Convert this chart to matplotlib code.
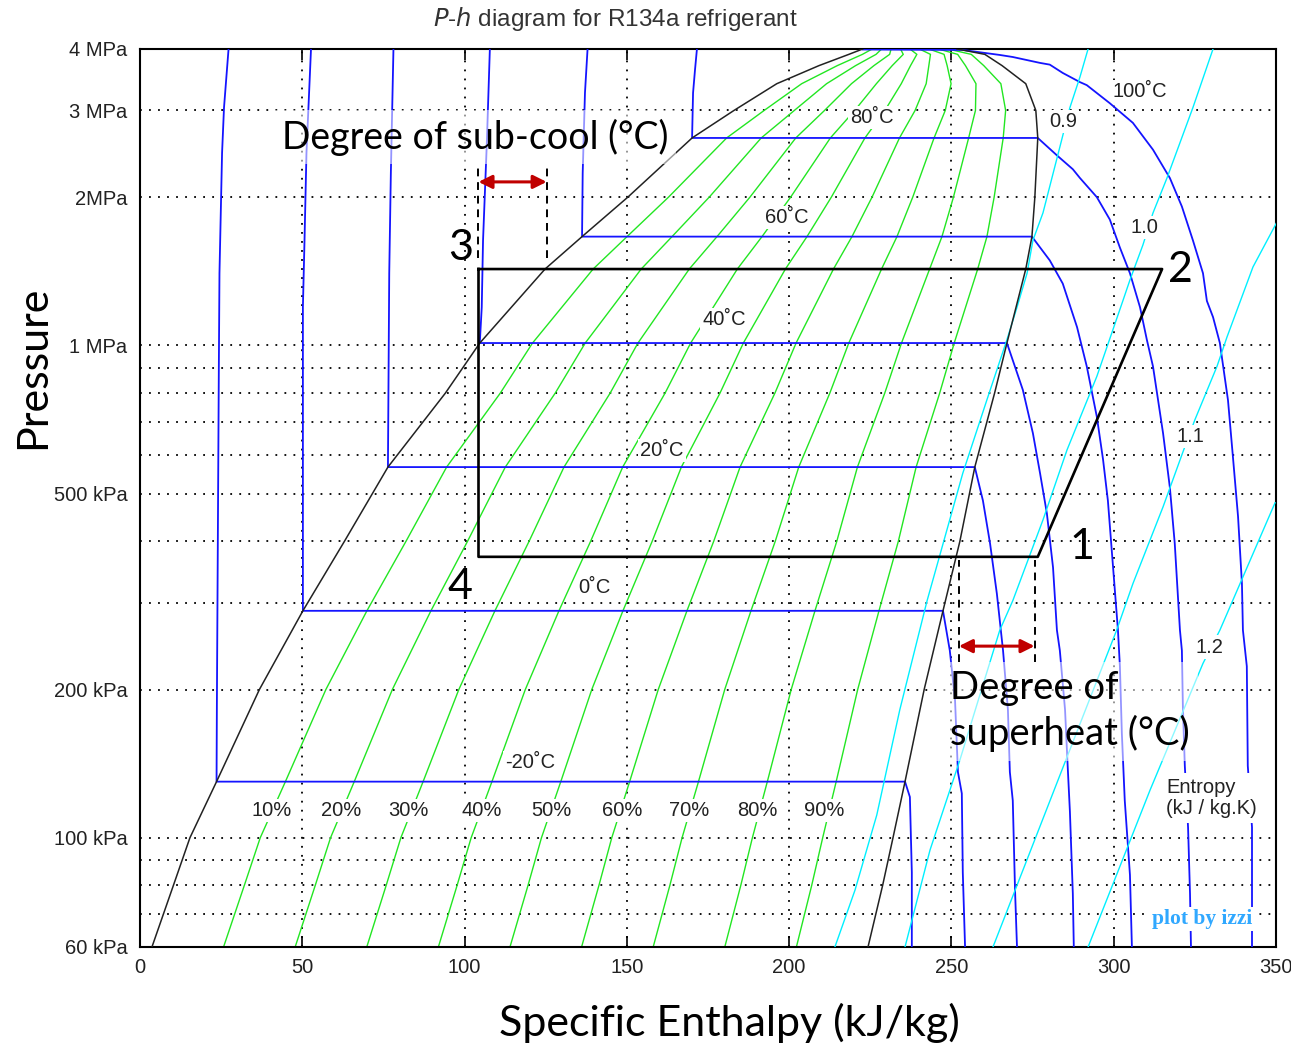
import numpy as np
import matplotlib.pyplot as plt
from matplotlib.ticker import FixedLocator, NullFormatter

# saturation dome of R134a: pressure (kPa), liquid and vapour enthalpy (kJ/kg)
dome_p = [60, 80, 100, 130, 200, 289, 400, 566, 800, 1011, 1429, 1663, 2000,
          2638, 3000, 3400, 3700, 3900, 4000]
dome_hf = [3.7, 10.3, 15.4, 23.6, 36.8, 50.2, 63.0, 76.4, 94.1, 104.7, 124.8,
           136.2, 150.3, 170.1, 183.0, 196.2, 209.2, 218.4, 222.7]
dome_hg = [224.3, 228.8, 232.0, 235.7, 241.6, 247.4, 252.6, 257.2, 263.3, 267.1,
           272.9, 274.8, 275.7, 276.6, 276.0, 272.9, 265.6, 260.3, 251.7]

# vapour quality lines
qualities = [0.1, 0.2, 0.3, 0.4, 0.5, 0.6, 0.7, 0.8, 0.9]
quality_labels = ['10%', '20%', '30%', '40%', '50%', '60%', '70%', '80%', '90%']
quality_label_h = [40.7, 62.1, 82.7, 105.4, 126.9, 148.5, 169.1, 190.3, 210.9]
quality_label_p = 113.8

# isotherms: compressed liquid branch (from saturation up) and superheated branch (from saturation down)
iso_temps = [-20, 0, 20, 40, 60, 80]
iso_sub_h = [[23.6, 23.7, 24.3, 24.5, 25.3, 25.9, 27.3],
             [50.2, 50.2, 50.7, 51.3, 52.7],
             [76.4, 76.6, 76.8, 77.3, 78.1],
             [104.7, 105.3, 105.7, 106.9, 107.8],
             [136.2, 136.4, 137.1, 137.9],
             [170.1, 170.4, 171.0, 171.6]]
iso_sub_p = [[130, 185, 891, 1401, 2459, 3041, 4000],
             [289, 1195, 1634, 2459, 4000],
             [566, 891, 1401, 2239, 4000],
             [1011, 1195, 1634, 2613, 4000],
             [1663, 2239, 3256, 4000],
             [2638, 3256, 3627, 4000]]
iso_sup_h = [[235.7, 237.2, 237.8, 237.8],
             [247.4, 249.5, 251.1, 252.0, 253.2, 253.5, 254.2],
             [257.2, 259.7, 261.9, 264.0, 265.9, 267.4, 268.0, 268.9, 269.6, 270.2],
             [267.1, 272.0, 275.1, 277.3, 279.4, 281.3, 282.5, 283.4, 285.0, 285.9,
              286.5, 287.4, 287.7],
             [274.8, 280.3, 284.3, 288.7, 291.7, 294.8, 296.7, 298.2, 299.8, 301.3,
              301.9, 302.5, 303.4, 305.0, 305.6],
             [276.6, 282.5, 287.4, 289.6, 294.8, 298.8, 301.9, 305.0, 308.1, 310.2,
              312.1, 315.2, 317.3, 318.8, 320.4, 321.0, 321.3, 321.9, 322.9, 323.5, 323.8]]
iso_sup_p = [[130, 121, 85, 60],
             [289, 240, 191, 136, 123, 85, 60],
             [566, 484, 396, 313, 240, 182, 136, 119, 78, 60],
             [1011, 812, 663, 550, 456, 354, 264, 240, 182, 136, 113, 77, 60],
             [1663, 1488, 1335, 1089, 906, 716, 587, 484, 354, 264, 223, 163, 119, 84, 60],
             [2638, 2432, 2279, 2187, 2000, 1801, 1580, 1401, 1195, 1027, 906, 663, 514,
              396, 264, 240, 185, 140, 105, 77, 60]]
iso100_h = [222.7, 253.5, 264.9, 268.9, 277.3, 280.3, 284.3, 289.6, 291.7, 298.8, 305.9,
            312.1, 317.3, 321.0, 324.4, 327.5, 328.7, 330.6, 332.7, 335.2, 336.7, 338.3,
            339.5, 339.8, 341.0, 341.3, 342.6, 342.6]
iso100_p = [3990, 3981, 3889, 3852, 3747, 3717, 3575, 3425, 3377, 3103, 2831, 2497, 2187,
            1914, 1634, 1401, 1231, 1141, 1011, 774, 596, 449, 328, 264, 223, 140, 105, 60]
iso_labels = ['-20˚C', '0˚C', '20˚C', '40˚C', '60˚C', '80˚C', '100˚C']
iso_label_h = [120.1, 139.9, 160.8, 179.9, 199.3, 225.5, 308.1]
iso_label_p = [142.4, 321.6, 613, 1126, 1815, 2897, 3272]

# isentropes (kJ/kg.K)
entropy_labels = ['0.9', '1.0', '1.1', '1.2']
s_h = [[214.1, 220.3, 227.0, 234.1, 242.5, 253.5, 260.9, 267.1, 270.2, 273.3, 275.1,
        278.2, 283.4, 286.5, 289.6, 292.1],
       [235.7, 243.4, 252.6, 264.9, 268.9, 278.2, 285.6, 294.8, 302.8, 305.0, 309.0,
        312.1, 316.4, 324.4, 330.6],
       [262.8, 284.0, 300.9, 305.9, 315.2, 321.3, 325.0, 331.8, 334.9, 342.9, 350.3],
       [292.1, 311.2, 327.5, 332.7, 338.9, 349.7]]
s_p = [[60, 78.3, 111.2, 182, 303, 550, 774, 1027, 1195, 1401, 1634, 1858, 2528, 3041,
        3509, 4000],
       [60, 94.4, 143.8, 264, 303, 442, 613, 865, 1231, 1358, 1600, 1858, 2187, 3041, 4000],
       [60, 137, 264, 328, 470, 607, 706, 906, 1040, 1443, 1781],
       [60, 125, 226, 264, 328, 479]]
s_label_h = [284.3, 309.6, 323.5, 329.6]
s_label_p = [2843, 1732, 652, 244]

# refrigeration cycle 3 -> 2 -> 1 -> 4 -> 3
cycle_h = [104.3, 314.9, 276.6, 104.3, 104.3]
cycle_p = [1429, 1429, 372, 372, 1429]
state_names = ['1', '2', '3', '4']
state_h = [290.2, 320.4, 98.9, 98.6]
state_p = [389, 1423, 1577, 323]

# sub-cool and superheat markers
subcool_h = [104.3, 125.3]
subcool_p = [1505, 2314]
subcool_arrow_p = 2148
superheat_h = [252.3, 275.6]
superheat_p = [227, 366]
superheat_arrow_p = 245

x_ticks = [0, 50, 100, 150, 200, 250, 300, 350]
y_ticks = [60, 100, 200, 500, 1000, 2000, 3000, 4000]
y_ticklabels = ['60 kPa', '100 kPa', '200 kPa', '500 kPa', '1 MPa', '2MPa', '3 MPa', '4 MPa']
grid_h = [50, 100, 150, 200, 250, 300]
grid_p = [70, 80, 90, 100, 200, 300, 400, 500, 600, 700, 800, 900, 1000, 2000, 3000]

GREEN = '#22e622'
BLUE = '#1414ff'
CYAN = '#00f0ff'
SMALL = dict(family='Liberation Sans', fontsize=14.5, color='#222222')
BIG = dict(family='Lato', color='black')
white_box = dict(facecolor='white', edgecolor='none', pad=1.5)

fig = plt.figure(figsize=(12.91, 10.48), dpi=100)
ax = fig.add_axes([0.1084, 0.0964, 0.8800, 0.8569])
ax.set_yscale('log')
ax.set_xlim(0, 350)
ax.set_ylim(60, 4000)

for h in grid_h:
    ax.axvline(h, color='black', lw=1.3, ls=(0, (1, 4)), zorder=1)
for p in grid_p:
    ax.axhline(p, color='black', lw=1.3, ls=(0, (1, 4)), zorder=1)

# quality lines inside the dome
hf = np.array(dome_hf)
hg = np.array(dome_hg)
for q in qualities:
    ax.plot(hf + q * (hg - hf), dome_p, color=GREEN, lw=1.0, zorder=2)

# isotherms
for sh, sp, vh, vp in zip(iso_sub_h, iso_sub_p, iso_sup_h, iso_sup_p):
    ax.plot(sh[::-1] + vh, sp[::-1] + vp, color=BLUE, lw=1.3, zorder=3)
ax.plot(iso100_h, iso100_p, color=BLUE, lw=1.3, zorder=3)

# isentropes
for h, p in zip(s_h, s_p):
    ax.plot(h, p, color=CYAN, lw=1.0, zorder=3)

# saturation dome
ax.plot(dome_hf, dome_p, color='#222222', lw=1.1, zorder=4)
ax.plot(dome_hg, dome_p, color='#222222', lw=1.1, zorder=4)

for txt, h in zip(quality_labels, quality_label_h):
    ax.text(h, quality_label_p, txt, ha='center', va='center', bbox=white_box, zorder=5, **SMALL)
for txt, h, p in zip(iso_labels, iso_label_h, iso_label_p):
    ax.text(h, p, txt, ha='center', va='center', bbox=white_box, zorder=5, **SMALL)
for txt, h, p in zip(entropy_labels, s_label_h, s_label_p):
    ax.text(h, p, txt, ha='center', va='center', bbox=white_box, zorder=5, **SMALL)
ax.text(316.1, 120.4, 'Entropy\n(kJ / kg.K)', ha='left', va='center', linespacing=1.1,
        bbox=dict(facecolor='white', edgecolor='none', pad=4), zorder=5, **SMALL)
ax.text(327.2, 68.4, 'plot by izzi', ha='center', va='center', family='Liberation Serif',
        fontweight='bold', fontsize=15.5, color='#30a8ff', bbox=white_box, zorder=5)

# cycle
ax.plot(cycle_h, cycle_p, color='black', lw=1.9, zorder=6)
for txt, h, p in zip(state_names, state_h, state_p):
    ax.text(h, p, txt, ha='center', va='center', fontsize=31, zorder=7, **BIG)

for h in subcool_h:
    ax.plot([h, h], subcool_p, color='black', lw=1.4, dashes=(4, 3), zorder=6)
for h in superheat_h:
    ax.plot([h, h], superheat_p, color='black', lw=1.4, dashes=(4, 3), zorder=6)
arrow = dict(arrowstyle='<|-|>', color='#c00000', lw=2.2, mutation_scale=20, shrinkA=0, shrinkB=0)
ax.annotate('', xy=(subcool_h[1], subcool_arrow_p), xytext=(subcool_h[0], subcool_arrow_p),
            arrowprops=arrow, zorder=7)
ax.annotate('', xy=(superheat_h[1], superheat_arrow_p), xytext=(superheat_h[0], superheat_arrow_p),
            arrowprops=arrow, zorder=7)

fade = dict(facecolor='white', alpha=0.55, edgecolor='none', pad=6)
ax.text(103.2, 2650, 'Degree of sub-cool (°C)', ha='center', va='center', fontsize=27,
        bbox=fade, zorder=7, **BIG)
ax.text(249.5, 180.8, 'Degree of\nsuperheat (°C)', ha='left', va='center', fontsize=27.5,
        linespacing=1.3, bbox=fade, zorder=7, **BIG)

# axes decoration
ax.set_xticks(x_ticks)
ax.set_xticklabels([str(t) for t in x_ticks], **SMALL)
ax.set_yticks(y_ticks)
ax.set_yticklabels(y_ticklabels, **SMALL)
ax.yaxis.set_minor_locator(FixedLocator([100, 1000]))
ax.yaxis.set_minor_formatter(NullFormatter())
ax.tick_params(axis='x', direction='in', length=8, width=1.2, top=True, pad=8)
ax.tick_params(axis='y', which='major', length=0, pad=9)
ax.tick_params(axis='y', which='minor', direction='in', length=10, width=1.2, left=True, right=True)
for sp in ax.spines.values():
    sp.set_linewidth(1.5)

ax.set_xlabel('Specific Enthalpy (kJ/kg)', fontsize=31, **BIG)
ax.xaxis.set_label_coords(0.5185, -0.062)
ax.set_ylabel('Pressure', fontsize=31, **BIG)
ax.yaxis.set_label_coords(-0.077, 0.645)

fig.text(0.477, 0.982, r'$\it{P}$-$\it{h}$ diagram for R134a refrigerant', ha='center', va='center',
         family='Liberation Sans', fontsize=17.5, color='#333333')

fig.savefig('out.png', dpi=100)
